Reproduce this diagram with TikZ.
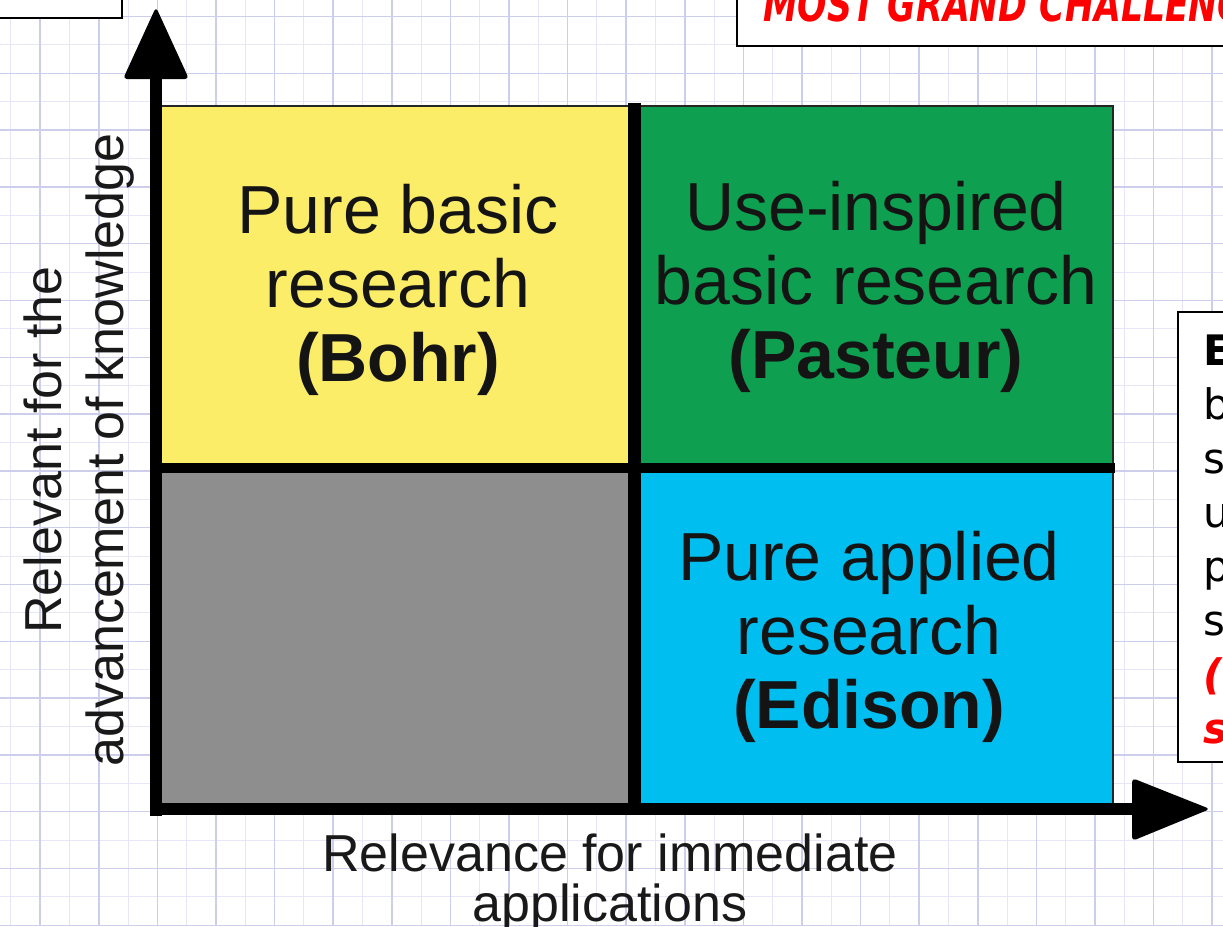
\documentclass[tikz,border=0pt]{standalone}
\usepackage{fontspec}
\setmainfont{Liberation Sans}
\newfontfamily\notefont{DejaVu Sans}

\definecolor{gridmajor}{RGB}{205,205,236}
\definecolor{gridminor}{RGB}{230,230,246}
\definecolor{pureyellow}{RGB}{252,237,104}
\definecolor{usegreen}{RGB}{14,160,80}
\definecolor{emptygray}{RGB}{142,142,142}
\definecolor{appliedcyan}{RGB}{0,190,240}
\definecolor{alertred}{RGB}{255,0,0}

\tikzset{
minorline/.style={draw=gridminor, line width=0.75pt},
majorline/.style={draw=gridmajor, line width=1.1pt},
quadrant/.style={draw=black!85, line width=1.5pt},
axisline/.style={line width=9.5pt},
axishead/.style={fill=black, rounded corners=3pt},
quadtext/.style={align=center, inner sep=0.75pt, text=black!92, font=\fontsize{51}{55.5}\selectfont},
labeltext/.style={align=center, inner sep=0.75pt, text=black!90, font=\fontsize{39}{37.5}\selectfont},
notebox/.style={draw=black, fill=white, line width=1.5pt},
notetext/.style={anchor=base west, inner sep=0pt, font=\notefont\fontsize{31.5}{31.5}\selectfont},
}

\begin{document}
\begin{tikzpicture}[x=0.75pt,y=0.75pt,yscale=-1,xscale=1]
\useasboundingbox (0,0) rectangle (1223,926);
\clip (0,0) rectangle (1223,926);

%Grid: minor then major lines
\foreach \i in {0,...,41} { \draw[minorline] ({10.9+29.3*\i},0) -- ({10.9+29.3*\i},926); }
\foreach \j in {0,...,32} { \draw[minorline] (0,{16.5+28.4*\j}) -- (1223,{16.5+28.4*\j}); }
\foreach \i in {1,3,...,41} { \draw[majorline] ({10.9+29.3*\i},0) -- ({10.9+29.3*\i},926); }
\foreach \j in {0,2,...,32} { \draw[majorline] (0,{16.5+28.4*\j}) -- (1223,{16.5+28.4*\j}); }

%Shape: Rectangle, top left box
\draw[notebox] (-10,-10) rectangle (122,18);
%Shape: Rectangle, top right box
\draw[notebox] (737,-10) rectangle (1240,46);
%Shape: Rectangle, right box
\draw[notebox] (1178,312) rectangle (1240,762);

%Shape: Quadrants
\filldraw[quadrant, fill=pureyellow] (160,106) rectangle (634,468);
\filldraw[quadrant, fill=usegreen] (634,106) rectangle (1113,468);
\filldraw[quadrant, fill=emptygray] (160,468) rectangle (634,809);
\filldraw[quadrant, fill=appliedcyan] (634,468) rectangle (1113,809);
%Straight Lines, dividers
\draw[line width=10pt] (634.5,103) -- (634.5,809);
\draw[line width=8pt] (156,468) -- (1115,468);

%Shape: Axis 2D
\draw[axisline] (156,816) -- (156,74);
\fill[axishead] (123,79) -- (156,7) -- (189,79) -- cycle;
\draw[axisline] (150,809) -- (1136,809);
\fill[axishead] (1132,778) -- (1210,809) -- (1132,841) -- cycle;

% Text Node
\node[quadtext] (bohr) at (398,290) {Pure basic\\research\\\textbf{(Bohr)}};
% Text Node
\node[quadtext] (pasteur) at (876,287) {Use-inspired\\basic research\\\textbf{(Pasteur)}};
% Text Node
\node[quadtext] (edison) at (869,637) {Pure applied\\research\\\textbf{(Edison)}};
% Text Node
\node[labeltext] (xlabel) at (610,883) {Relevance for immediate\\applications};
% Text Node
\node[labeltext, rotate=90, font=\fontsize{39}{46.5}\selectfont] (ylabel) at (79,450) {Relevant for the\\advancement of knowledge};

% Text Node
\node[notetext, text=alertred, font=\notefont\bfseries\itshape\fontsize{26}{26}\selectfont] (challenge) at (763,21) {\scalebox{1}[1.35]{MOST GRAND CHALLENGES}};
% Text Node
\node[notetext, font=\notefont\bfseries\fontsize{31.5}{31.5}\selectfont] (line0) at (1203,365) {E};
\node[notetext] (line1) at (1203,419) {b};
\node[notetext] (line2) at (1203,473) {s};
\node[notetext] (line3) at (1203,527) {u};
\node[notetext] (line4) at (1203,581) {p};
\node[notetext] (line5) at (1203,635) {s};
\node[notetext, text=alertred, font=\notefont\bfseries\itshape\fontsize{31.5}{31.5}\selectfont] (line6) at (1203,689) {(};
\node[notetext, text=alertred, font=\notefont\bfseries\itshape\fontsize{31.5}{31.5}\selectfont] (line7) at (1203,743) {s};

\end{tikzpicture}
\end{document}
